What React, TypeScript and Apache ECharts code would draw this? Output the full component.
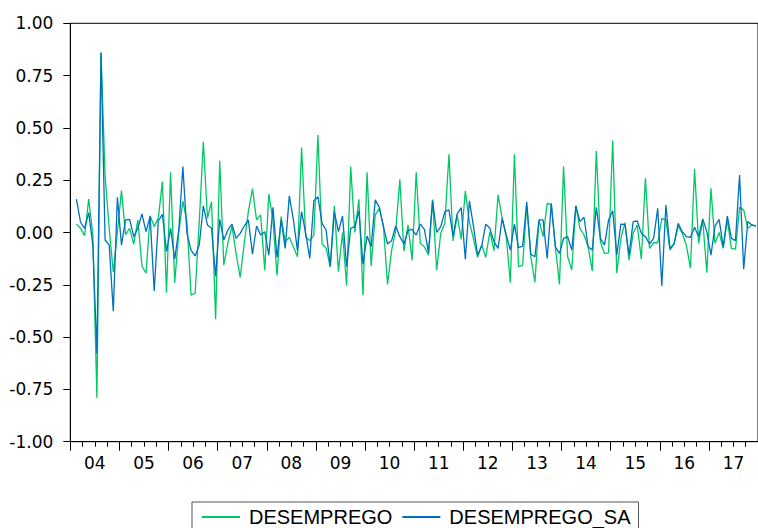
import React, { useEffect, useRef } from "react";
import * as echarts from "echarts";

// Monthly first differences, Feb 2004 .. Dec 2017 (index 0 = Jan 2004, no value)
const yearLabels = ["04", "05", "06", "07", "08", "09", "10", "11", "12", "13", "14", "15", "16", "17"];
const yTicks = [-1, -0.75, -0.5, -0.25, 0, 0.25, 0.5, 0.75, 1];

const desemprego: (number | null)[] = [
  null,
  0.04, 0.02, -0.015, 0.16, -0.01, -0.79, 0.86, 0.27, 0.02, -0.19, 0.0,
  0.2, -0.01, 0.02, -0.056, 0.06, -0.16, -0.195, 0.08, 0.028, 0.07, 0.243, -0.288,
  0.288, -0.24, 0.0, 0.15, 0.05, -0.30, -0.29, 0.05, 0.434, 0.068, 0.147, -0.414,
  0.343, -0.156, -0.05, 0.03, -0.1, -0.215, -0.05, 0.1, 0.21, 0.06, 0.084, -0.18,
  0.184, 0.06, -0.205, 0.076, -0.044, -0.023, -0.068, -0.116, 0.406, -0.02, -0.039, -0.012,
  0.466, -0.055, -0.076, -0.163, 0.127, -0.187, 0.0, -0.254, 0.315, 0.0, 0.158, -0.3,
  0.288, -0.16, 0.084, 0.115, 0.03, -0.248, -0.084, 0.01, 0.254, -0.089, 0.036, -0.132,
  0.288, -0.052, -0.068, -0.108, 0.158, -0.18, -0.004, 0.044, 0.374, -0.04, 0.084, -0.033,
  0.198, 0.05, -0.03, -0.119, -0.06, -0.119, 0.004, -0.087, 0.18, 0.068, -0.02, -0.24,
  0.374, -0.163, -0.157, 0.13, -0.115, -0.238, 0.06, -0.02, 0.14, 0.131, -0.068, -0.248,
  0.315, -0.116, -0.18, 0.127, 0.02, -0.012, -0.068, -0.184, 0.39, -0.044, -0.1, -0.097,
  0.44, -0.195, -0.028, 0.047, -0.132, -0.004, 0.036, -0.128, 0.259, -0.076, -0.049, -0.049,
  0.068, 0.06, -0.084, -0.052, 0.031, -0.004, -0.06, -0.171, 0.304, -0.052, 0.06, -0.192,
  0.211, -0.052, 0.0, -0.076, 0.06, -0.076, -0.08, 0.12, 0.108, 0.02, 0.036, 0.03,
];

const desempregoSA: (number | null)[] = [
  null,
  0.159, 0.049, 0.02, 0.095, -0.06, -0.58, 0.86, -0.036, -0.06, -0.376, 0.168,
  -0.06, 0.06, 0.063, -0.02, 0.02, 0.089, 0.004, 0.077, -0.28, 0.055, 0.087, -0.092,
  0.02, -0.128, 0.012, 0.315, -0.004, -0.084, -0.112, -0.06, 0.127, 0.036, 0.02, -0.21,
  0.063, -0.036, 0.012, 0.04, -0.028, -0.004, 0.031, 0.06, -0.103, 0.031, -0.012, 0.004,
  -0.108, 0.12, -0.119, 0.06, -0.076, 0.175, 0.06, -0.087, 0.1, -0.004, -0.124, 0.152,
  0.171, 0.044, 0.012, -0.163, 0.1, 0.004, 0.079, -0.163, 0.02, 0.028, 0.104, -0.151,
  -0.017, -0.068, 0.156, 0.12, 0.028, -0.055, -0.039, 0.031, -0.02, -0.055, 0.009, 0.015,
  -0.012, 0.04, 0.015, -0.096, 0.152, 0.0, 0.028, 0.1, 0.108, -0.017, 0.088, 0.119,
  -0.128, 0.151, 0.028, -0.108, -0.065, 0.04, 0.02, -0.044, -0.076, 0.068, -0.012, -0.084,
  0.04, -0.073, -0.065, 0.147, -0.104, -0.116, 0.06, 0.06, -0.124, 0.14, -0.068, -0.1,
  -0.028, -0.02, -0.084, 0.127, 0.052, 0.073, -0.068, -0.084, 0.12, -0.028, -0.06, 0.06,
  0.104, -0.108, 0.04, 0.039, -0.108, 0.052, 0.055, -0.004, -0.02, -0.055, -0.028, 0.116,
  -0.256, 0.131, -0.076, -0.055, 0.044, 0.004, -0.02, -0.023, 0.025, -0.02, 0.065, 0.004,
  -0.108, 0.031, 0.063, -0.068, 0.079, -0.028, -0.039, 0.275, -0.175, 0.052, 0.036, 0.03,
];

const GREEN = "#00C864";
const BLUE = "#0070C0";
const AXIS_FONT = "DejaVu Sans";
const LEGEND_FONT = "Liberation Sans, Arial, sans-serif";

function toPairs(values: (number | null)[]) {
  const out: [number, number][] = [];
  values.forEach((v, i) => {
    if (v !== null) out.push([i + 0.5, v]);
  });
  return out;
}

export default function App() {
  const ref = useRef<HTMLDivElement>(null);
  useEffect(() => {
    if (!ref.current) return;
    const chart = echarts.init(ref.current, undefined, { renderer: "svg" });
    const months = yearLabels.length * 12;
    const labelValues = yearLabels.map((_, i) => i * 12 + 6);
    chart.setOption({
      animation: false,
      backgroundColor: "#ffffff",
      grid: {
        left: 70.3,
        top: 23.3,
        width: 691.6,
        height: 418.4,
        show: true,
        borderColor: "#000",
        borderWidth: 1,
        backgroundColor: "transparent",
      },
      legend: {
        left: 192,
        top: 502,
        orient: "horizontal",
        borderColor: "#555",
        borderWidth: 1,
        padding: [5, 8, 8, 10],
        icon: "rect",
        itemWidth: 38,
        itemHeight: 2,
        itemGap: 10,
        textStyle: { fontFamily: LEGEND_FONT, fontSize: 20, color: "#000", padding: [0, 0, 0, 4] },
        data: ["DESEMPREGO", "DESEMPREGO_SA"],
      },
      xAxis: {
        type: "value",
        min: 0,
        max: months,
        interval: 12,
        axisLine: { onZero: false, lineStyle: { color: "#000", width: 1 } },
        axisTick: { show: true, length: 9, inside: false, lineStyle: { color: "#000" } },
        minorTick: { show: true, splitNumber: 4, length: 5, lineStyle: { color: "#000" } },
        splitLine: { show: false },
        minorSplitLine: { show: false },
        axisLabel: {
          customValues: labelValues,
          formatter: (v: number) => yearLabels[Math.round((v - 6) / 12)] ?? "",
          fontFamily: AXIS_FONT,
          fontSize: 17,
          color: "#000",
          margin: 13,
        },
      },
      yAxis: {
        type: "value",
        min: yTicks[0],
        max: yTicks[yTicks.length - 1],
        interval: 0.25,
        axisLine: { show: true, lineStyle: { color: "#000", width: 1 } },
        axisTick: { show: true, length: 7, lineStyle: { color: "#000" } },
        splitLine: { show: false },
        axisLabel: {
          formatter: (v: number) => v.toFixed(2),
          fontFamily: AXIS_FONT,
          fontSize: 17,
          color: "#000",
          margin: 17,
        },
      },
      series: [
        {
          name: "DESEMPREGO",
          type: "line",
          symbol: "none",
          data: toPairs(desemprego),
          lineStyle: { color: GREEN, width: 1.3 },
          itemStyle: { color: GREEN },
        },
        {
          name: "DESEMPREGO_SA",
          type: "line",
          symbol: "none",
          data: toPairs(desempregoSA),
          lineStyle: { color: BLUE, width: 1.3 },
          itemStyle: { color: BLUE },
        },
      ],
    });
    return () => chart.dispose();
  }, []);
  return (
    <div
      ref={ref}
      style={{ position: "absolute", left: 0, top: 0, width: 758, height: 528, background: "#fff" }}
    />
  );
}
